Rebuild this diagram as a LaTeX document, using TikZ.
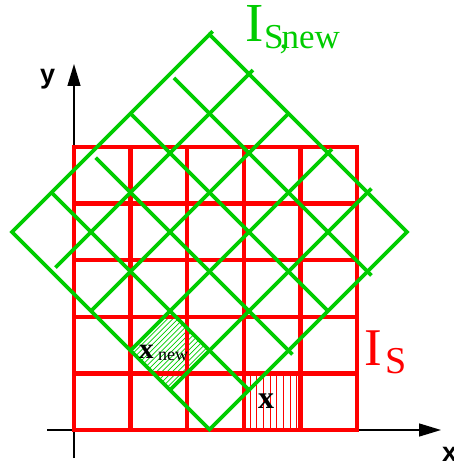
\documentclass[tikz,border=0pt]{standalone}
\usepackage{fontspec}
\setmainfont{Liberation Serif}
\newfontfamily\labsans{Liberation Sans}
\usetikzlibrary{arrows.meta}
\definecolor{gridred}{RGB}{255,0,0}
\definecolor{gridgreen}{RGB}{0,204,0}
\begin{document}
\begin{tikzpicture}[x=1pt,y=-1pt,
  redline/.style={gridred, line width=4.4pt},
  greenline/.style={gridgreen, line width=3.8pt},
  axisline/.style={black, line width=1.3pt, -{Triangle[length=22pt,width=13pt]}},
  hatchred/.style={gridred, line width=0.9pt},
  hatchgreen/.style={gridgreen, line width=0.7pt},
  lab/.style={inner sep=0pt, anchor=base west}]
\useasboundingbox (0,0) rectangle (454,468);
% axes
\coordinate (xs) at (47,430); \coordinate (xe) at (441,430);
\coordinate (ys) at (74,458); \coordinate (ye) at (74,64);
\draw[axisline] (xs) -- (xe);
\draw[axisline] (ys) -- (ye);
% red hatch in cell of x
\foreach \k in {0,...,7} \draw[hatchred] ({250+6.7*\k},375) -- ({250+6.7*\k},428);
% green hatch in cell of x_new
\begin{scope}[shift={(12,232)}, x={(39.5pt,39.5pt)}, y={(39.5pt,-39.5pt)}]
  \foreach \k in {1,...,14} \draw[hatchgreen] (0,{3+\k/15}) -- (1,{3+\k/15});
\end{scope}
% red grid I_S
\draw[redline] (74,147) rectangle (357,430);
\foreach \i in {1,...,4} {
  \draw[redline] ({74+56.6*\i},147) -- ({74+56.6*\i},430);
  \draw[redline] (74,{147+56.6*\i}) -- (357,{147+56.6*\i});
}
% green rotated grid I_S,new
\begin{scope}[shift={(12,232)}, x={(39.5pt,39.5pt)}, y={(39.5pt,-39.5pt)}]
  \draw[greenline] (0,0) -- (5,0) -- (5,5) -- (0,5) -- cycle;
  \draw[greenline] (5,0) -- (5.08,0);
  \draw[greenline] (1,0) -- (1,5);
  \draw[greenline] (2,0.12) -- (2,5.1);
  \draw[greenline] (3,0) -- (3,5);
  \draw[greenline] (4,0.1) -- (4,5.1);
  \draw[greenline] (0.1,1) -- (5.1,1);
  \draw[greenline] (0,2) -- (5,2);
  \draw[greenline] (0,3) -- (5.1,3);
  \draw[greenline] (0,4) -- (5.1,4);
\end{scope}
% labels
\node[lab] (ylab) at (40,84) {\labsans\bfseries\fontsize{27}{27}\selectfont y};
\node[lab] (xlab) at (442,461) {\labsans\bfseries\fontsize{27}{27}\selectfont x};
\node[lab, text=gridgreen] (Inew) at (245,42) {\fontsize{55}{55}\selectfont I};
\node[lab, text=gridgreen] (Snew) at (264,49) {\fontsize{35}{35}\selectfont S\kern-4pt\rlap{,}\kern2pt new};
\node[lab, text=gridred] (Is) at (364,365) {\fontsize{53}{53}\selectfont I};
\node[lab, text=gridred] (Ss) at (385,373) {\fontsize{38}{38}\selectfont S};
\node[lab] (xold) at (258,408) {\bfseries\fontsize{32}{32}\selectfont x};
\node[lab] (xnew) at (139,358) {\bfseries\fontsize{29}{29}\selectfont x};
\node[lab] (xnewsub) at (158,360) {\fontsize{18}{18}\selectfont new};
\end{tikzpicture}
\end{document}
